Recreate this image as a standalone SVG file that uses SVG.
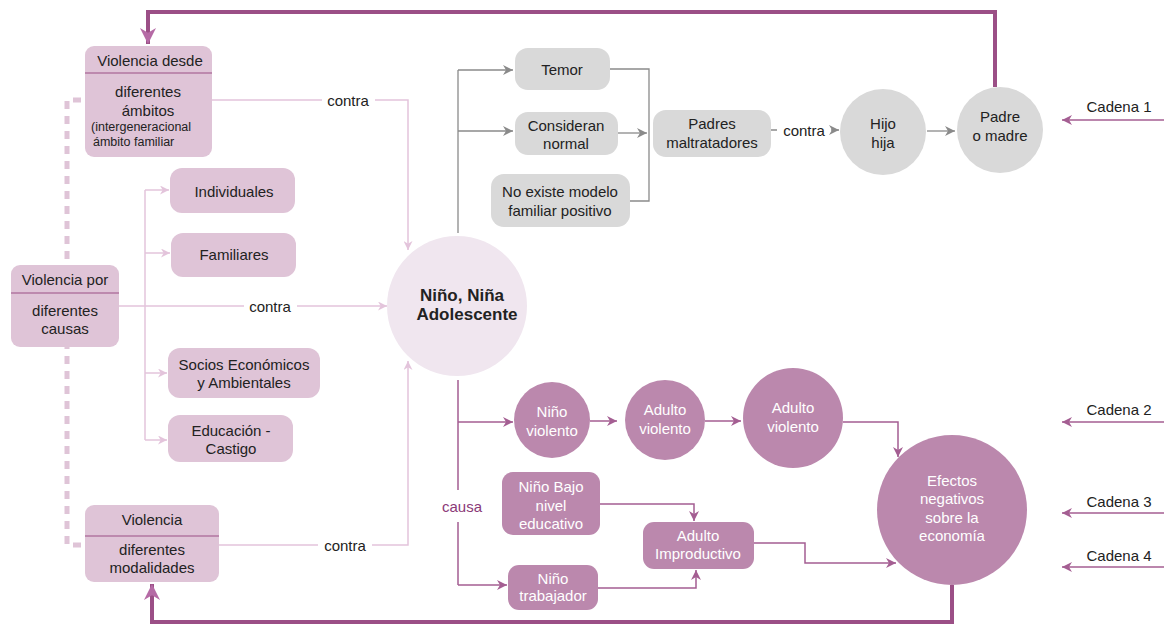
<svg xmlns="http://www.w3.org/2000/svg" width="1164" height="625" viewBox="0 0 1164 625">
<style>
text{font-family:"Liberation Sans",Arial,sans-serif;font-size:15px;fill:#222;text-anchor:middle;dominant-baseline:central}
.w{fill:#fff}
.sm{font-size:12.5px}
.pk{fill:#dfc4d7}
.dk{fill:#bb88ad}
.gr{fill:#d9d9d9}
.lp{fill:none;stroke:#e3c4db;stroke-width:1.5}
.gl{fill:none;stroke:#8a8a8a;stroke-width:1.3}
.ml{fill:none;stroke:#a45e92;stroke-width:1.5}
.th{fill:none;stroke:#9b4f86;stroke-width:4}
.div{stroke:#9b4f86;stroke-width:1.2}
</style>
<defs>
<marker id="aLp" viewBox="0 0 10 10" refX="10" refY="5" markerWidth="9" markerHeight="9" markerUnits="userSpaceOnUse" orient="auto"><path d="M0,0 L10,5 L0,10 L3,5 Z" fill="#e3c4db"/></marker>
<marker id="aG" viewBox="0 0 10 10" refX="10" refY="5" markerWidth="10" markerHeight="10" markerUnits="userSpaceOnUse" orient="auto"><path d="M0,0 L10,5 L0,10 L3,5 Z" fill="#8a8a8a"/></marker>
<marker id="aM" viewBox="0 0 10 10" refX="10" refY="5" markerWidth="10" markerHeight="10" markerUnits="userSpaceOnUse" orient="auto"><path d="M0,0 L10,5 L0,10 L3,5 Z" fill="#a45e92"/></marker>
<marker id="aT" viewBox="0 0 10 10" refX="10" refY="5" markerWidth="16" markerHeight="16" markerUnits="userSpaceOnUse" orient="auto"><path d="M0,0 L10,5 L0,10 L3,5 Z" fill="#b56aa5"/></marker>
</defs>
<rect width="1164" height="625" fill="#fff"/>

<g id="connectors">
<path class="th" d="M995,87 V12 H148 V44" marker-end="url(#aT)"/>
<path class="th" d="M952,585 V622 H152 V584" marker-end="url(#aT)"/>
<path d="M81,100 H67 V545 H81" fill="none" stroke="#dfc4d7" stroke-width="5" stroke-dasharray="8,7"/>
<path class="lp" d="M212,100 H322 M375,100 H408 V250" marker-end="url(#aLp)"/>
<path class="lp" d="M119,306 H244 M297,306 H387" marker-end="url(#aLp)"/>
<path class="lp" d="M219,545 H318 M372,545 H408 V361" marker-end="url(#aLp)"/>
<path class="lp" d="M145,190 V440"/>
<path class="lp" d="M145,190 H169" marker-end="url(#aLp)"/>
<path class="lp" d="M145,253 H170" marker-end="url(#aLp)"/>
<path class="lp" d="M145,373 H167" marker-end="url(#aLp)"/>
<path class="lp" d="M145,440 H167" marker-end="url(#aLp)"/>
<path class="ml" d="M194,126 H209" marker-end="url(#aM)" style="stroke-width:1.2"/>
<path class="gl" d="M458,233 V70"/>
<path class="gl" d="M458,70 H513" marker-end="url(#aG)"/>
<path class="gl" d="M458,131 H513" marker-end="url(#aG)"/>
<path class="gl" d="M610,69 H649 V201 H630"/>
<path class="gl" d="M618,133 H647" marker-end="url(#aG)"/>
<path class="gl" d="M771,130 H777 M831,130 H839" marker-end="url(#aG)"/>
<path class="gl" d="M927,131 H955" marker-end="url(#aG)"/>
<path class="ml" d="M1164,120 H1062" marker-end="url(#aM)"/>
<path class="ml" d="M1164,422 H1062" marker-end="url(#aM)"/>
<path class="ml" d="M1164,513 H1062" marker-end="url(#aM)"/>
<path class="ml" d="M1164,567 H1062" marker-end="url(#aM)"/>
<path class="ml" d="M458,380 V490 M458,522 V585"/>
<path class="ml" d="M458,422 H513" marker-end="url(#aM)"/>
<path class="ml" d="M458,585 H507" marker-end="url(#aM)"/>
<path class="ml" d="M590,421 H617" marker-end="url(#aM)"/>
<path class="ml" d="M705,421 H741" marker-end="url(#aM)"/>
<path class="ml" d="M843,422 H898 V457" marker-end="url(#aM)"/>
<path class="ml" d="M600,504 H694 V521" marker-end="url(#aM)"/>
<path class="ml" d="M598,588 H696 V570" marker-end="url(#aM)"/>
<path class="ml" d="M754,543 H805 V563 H896" marker-end="url(#aM)"/>
</g>

<g id="labels">
<text x="348" y="100">contra</text>
<text x="270" y="306">contra</text>
<text x="345" y="545">contra</text>
<text x="804" y="130">contra</text>
<text x="462" y="506" style="fill:#8b3a78">causa</text>
<text x="1119" y="106">Cadena 1</text>
<text x="1119" y="409">Cadena 2</text>
<text x="1119" y="501">Cadena 3</text>
<text x="1119" y="555">Cadena 4</text>
</g>

<g id="violencia-desde">
<rect class="pk" x="85" y="46" width="127" height="111" rx="9"/>
<line class="div" x1="85" y1="73" x2="212" y2="73"/>
<text x="150" y="60">Violencia desde</text>
<text x="148" y="91">diferentes</text>
<text x="148" y="110">ámbitos</text>
<text x="91" y="127" class="sm" style="text-anchor:start">(intergeneracional</text>
<text x="93" y="142" class="sm" style="text-anchor:start">ámbito familiar</text>
</g>

<g id="violencia-por">
<rect class="pk" x="11" y="265" width="108" height="82" rx="9"/>
<line class="div" x1="11" y1="293" x2="119" y2="293"/>
<text x="65" y="279">Violencia por</text>
<text x="65" y="310">diferentes</text>
<text x="65" y="328">causas</text>
</g>

<g id="violencia-modalidades">
<rect class="pk" x="85" y="505" width="134" height="77" rx="9"/>
<line class="div" x1="85" y1="536" x2="219" y2="536"/>
<text x="152" y="519">Violencia</text>
<text x="152" y="549">diferentes</text>
<text x="152" y="567">modalidades</text>
</g>

<g id="individuales"><rect class="pk" x="170" y="168" width="125" height="45" rx="12"/><text x="234" y="191">Individuales</text></g>
<g id="familiares"><rect class="pk" x="171" y="233" width="125" height="44" rx="12"/><text x="234" y="254">Familiares</text></g>
<g id="socios"><rect class="pk" x="168" y="348" width="152" height="50" rx="12"/><text x="244" y="364">Socios Económicos</text><text x="244" y="382">y Ambientales</text></g>
<g id="educacion"><rect class="pk" x="168" y="415" width="125" height="47" rx="12"/><text x="231" y="430">Educación -</text><text x="231" y="448">Castigo</text></g>

<g id="nino-nina">
<circle cx="457" cy="306" r="70" fill="#f0e6ef"/>
<text x="462" y="295" style="font-weight:bold;font-size:17px">Niño, Niña</text>
<text x="467" y="314" style="font-weight:bold;font-size:17px">Adolescente</text>
</g>

<g id="temor"><rect class="gr" x="515" y="48" width="95" height="42" rx="13"/><text x="562" y="69">Temor</text></g>
<g id="consideran"><rect class="gr" x="515" y="112" width="103" height="43" rx="13"/><text x="566" y="125">Consideran</text><text x="566" y="143">normal</text></g>
<g id="no-existe"><rect class="gr" x="491" y="174" width="139" height="53" rx="13"/><text x="560" y="191">No existe modelo</text><text x="560" y="210">familiar positivo</text></g>
<g id="padres"><rect class="gr" x="653" y="110" width="118" height="47" rx="13"/><text x="712" y="123">Padres</text><text x="712" y="142">maltratadores</text></g>
<g id="hijo"><circle class="gr" cx="883" cy="132" r="43"/><text x="883" y="123">Hijo</text><text x="883" y="142">hija</text></g>
<g id="padre"><circle class="gr" cx="1000" cy="130" r="43"/><text x="1000" y="116">Padre</text><text x="1000" y="135">o madre</text></g>

<g id="nino-violento"><circle class="dk" cx="552" cy="420" r="38"/><text class="w" x="552" y="411">Niño</text><text class="w" x="552" y="430">violento</text></g>
<g id="adulto-violento"><circle class="dk" cx="665" cy="420" r="40"/><text class="w" x="665" y="409">Adulto</text><text class="w" x="665" y="428">violento</text></g>
<g id="adulto-violento-2"><circle class="dk" cx="793" cy="418" r="50"/><text class="w" x="793" y="407">Adulto</text><text class="w" x="793" y="426">violento</text></g>
<g id="efectos"><circle class="dk" cx="952" cy="510" r="75"/><text class="w" x="952" y="480">Efectos</text><text class="w" x="952" y="498">negativos</text><text class="w" x="952" y="517">sobre la</text><text class="w" x="952" y="535">economía</text></g>
<g id="nino-bajo"><rect class="dk" x="502" y="472" width="98" height="63" rx="11"/><text class="w" x="551" y="486">Niño Bajo</text><text class="w" x="551" y="505">nivel</text><text class="w" x="551" y="523">educativo</text></g>
<g id="adulto-improductivo"><rect class="dk" x="643" y="522" width="111" height="47" rx="11"/><text class="w" x="698" y="535">Adulto</text><text class="w" x="698" y="553">Improductivo</text></g>
<g id="nino-trabajador"><rect class="dk" x="508" y="565" width="90" height="45" rx="11"/><text class="w" x="553" y="578">Niño</text><text class="w" x="553" y="595">trabajador</text></g>
</svg>
